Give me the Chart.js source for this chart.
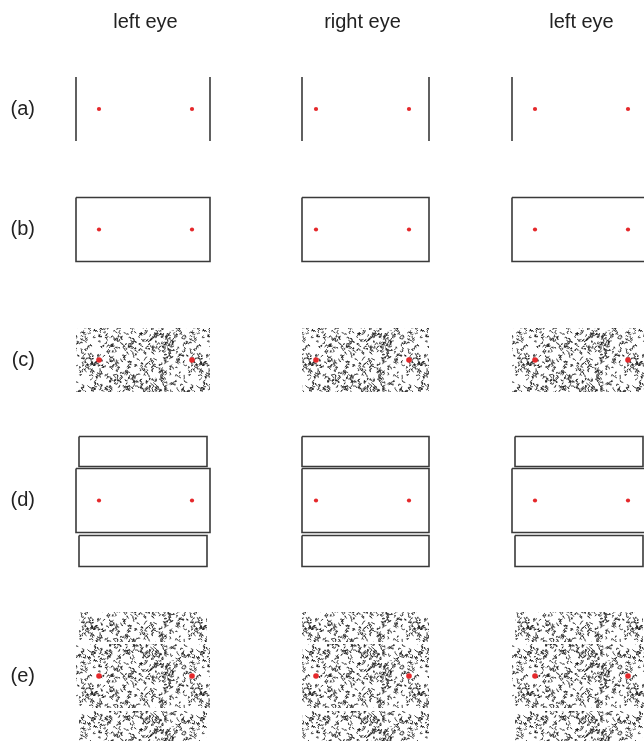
<!DOCTYPE html>
<html>
<head>
<meta charset="utf-8">
<title>Stereo frame stimuli</title>
<script src="https://cdn.jsdelivr.net/npm/chart.js@4.4.0/dist/chart.umd.min.js"></script>
<style>
  html, body { margin: 0; padding: 0; background: #fff; overflow: hidden; }
  canvas { display: block; }
</style>
</head>
<body>
<canvas id="chart" width="644" height="741"></canvas>
<script>
// Column headings and row labels
const eyeLabels = ['left eye', 'right eye', 'left eye'];
const rowLabels = ['(a)', '(b)', '(c)', '(d)', '(e)'];
// what each row shows
const rowKinds = ['lines', 'frame', 'noise', 'flankedFrame', 'flankedNoise'];

// Stimulus geometry, relative to the midpoint of the two fixation dots
const dotX = [-46.5, 46.5];
// frame edges for each eye (the frame carries a disparity)
const frameLeft = [-69.5, -60.5, -69.5];
const frameRight = [64.5, 66.5, 64.5];
const frameTopBottom = [-32, 32];
// flanking bars above and below
const flankLeft = [-66.5, -60.5, -66.5];
const flankRight = [61.5, 66.5, 61.5];
const flankUpper = [-64, -34];
const flankLower = [35, 66];

// Layout: panel centres in canvas units
const eyeCentres = [145.5, 362.5, 581.5];
const rowCentres = [109, 229.5, 360, 500.5, 676];

const INK = '#3a3a3a';
const DOT = '#e5282b';

// speckle texture for the noise panels
function noiseTexture() {
    const tile = document.createElement('canvas');
    tile.width = 109;
    tile.height = 66;
    const c = tile.getContext('2d');
    c.fillStyle = '#fff';
    c.fillRect(0, 0, tile.width, tile.height);
    let s = 20240611;
    const rnd = () => {
        s = (s + 0x6D2B79F5) >>> 0;
        let t = s;
        t = Math.imul(t ^ (t >>> 15), t | 1);
        t ^= t + Math.imul(t ^ (t >>> 7), t | 61);
        return ((t ^ (t >>> 14)) >>> 0) / 4294967296;
    };
    c.strokeStyle = 'rgba(30,30,30,0.85)';
    c.lineWidth = 1;
    c.lineCap = 'round';
    for (let i = 0; i < 500; i++) {
        let x = rnd() * tile.width;
        let y = rnd() * tile.height;
        c.beginPath();
        c.moveTo(x, y);
        for (let k = 0; k < 3; k++) {
            x += (rnd() - 0.5) * 3.5;
            y += (rnd() - 0.5) * 3.5;
            c.lineTo(x, y);
        }
        c.stroke();
    }
    return c.createPattern(tile, 'repeat');
}
const speckle = noiseTexture();

function rectPoints(cx, cy, l, r, t, b) {
    return [
        { x: cx + l, y: cy + t }, { x: cx + r, y: cy + t },
        { x: cx + r, y: cy + b }, { x: cx + l, y: cy + b },
        { x: cx + l, y: cy + t }
    ];
}

function outline(points) {
    return {
        type: 'line', data: points, order: 1,
        borderColor: INK, borderWidth: 1.6, pointRadius: 0,
        fill: false, tension: 0
    };
}

function textured(points) {
    return {
        type: 'line', data: points, order: 2,
        borderWidth: 0, borderColor: 'rgba(0,0,0,0)', pointRadius: 0,
        backgroundColor: speckle, fill: 'shape', tension: 0
    };
}

// Build datasets
const datasets = [];
eyeCentres.forEach((cx, e) => {
    rowCentres.forEach((cy, r) => {
        const kind = rowKinds[r];
        const [ft, fb] = frameTopBottom;
        const main = rectPoints(cx, cy, frameLeft[e], frameRight[e], ft, fb);
        const upper = rectPoints(cx, cy, flankLeft[e], flankRight[e], flankUpper[0], flankUpper[1]);
        const lower = rectPoints(cx, cy, flankLeft[e], flankRight[e], flankLower[0], flankLower[1]);

        if (kind === 'lines') {
            datasets.push(outline([{ x: cx + frameLeft[e], y: cy + ft }, { x: cx + frameLeft[e], y: cy + fb }]));
            datasets.push(outline([{ x: cx + frameRight[e], y: cy + ft }, { x: cx + frameRight[e], y: cy + fb }]));
        } else if (kind === 'frame') {
            datasets.push(outline(main));
        } else if (kind === 'noise') {
            datasets.push(textured(main));
        } else if (kind === 'flankedFrame') {
            datasets.push(outline(upper), outline(main), outline(lower));
        } else if (kind === 'flankedNoise') {
            datasets.push(textured(upper), textured(main), textured(lower));
        }

        // fixation dots
        const big = kind.indexOf('oise') > -1;
        datasets.push({
            type: 'scatter', order: 0,
            data: dotX.map(dx => ({ x: cx + dx, y: cy })),
            pointRadius: big ? 2.8 : 2.1,
            backgroundColor: DOT, borderWidth: 0
        });
    });
});

const AXIS_LEFT = 48;
const AXIS_TOP = 46;
const labelFont = { family: "'Liberation Sans', Arial, sans-serif", size: 20 };

// no extra room for overhanging tick labels, so one unit stays one pixel
function noPadding(scale) {
    scale.paddingLeft = 0;
    scale.paddingRight = 0;
    scale.paddingTop = 0;
    scale.paddingBottom = 0;
}

new Chart(document.getElementById('chart'), {
    type: 'scatter',
    data: { datasets: datasets },
    options: {
        responsive: false,
        animation: false,
        layout: { padding: 0, autoPadding: false },
        plugins: {
            legend: { display: false },
            tooltip: { enabled: false }
        },
        scales: {
            x: {
                type: 'linear',
                position: 'top',
                min: AXIS_LEFT,
                max: 644,
                grid: { display: false, drawTicks: false },
                border: { display: false },
                afterBuildTicks: function(scale) {
                    scale.ticks = eyeCentres.map(v => ({ value: v }));
                },
                afterFit: function(scale) {
                    scale.height = AXIS_TOP;
                    noPadding(scale);
                },
                ticks: {
                    autoSkip: false,
                    maxRotation: 0,
                    padding: 12,
                    color: '#222',
                    font: labelFont,
                    callback: function(value, index) {
                        return eyeLabels[index];
                    }
                }
            },
            y: {
                type: 'linear',
                reverse: true,
                min: AXIS_TOP,
                max: 741,
                grid: { display: false, drawTicks: false },
                border: { display: false },
                afterBuildTicks: function(scale) {
                    scale.ticks = rowCentres.map(v => ({ value: v }));
                },
                afterFit: function(scale) {
                    scale.width = AXIS_LEFT;
                    noPadding(scale);
                },
                ticks: {
                    autoSkip: false,
                    padding: 13,
                    color: '#222',
                    font: labelFont,
                    callback: function(value, index) {
                        return rowLabels[index];
                    }
                }
            }
        }
    }
});
</script>
</body>
</html>
